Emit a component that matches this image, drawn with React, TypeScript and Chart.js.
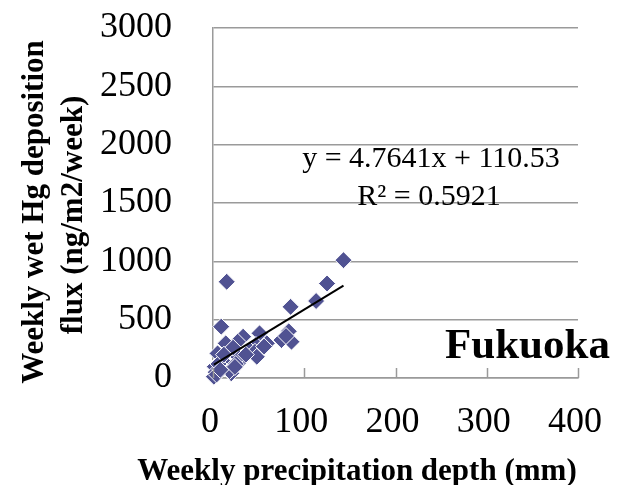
import React, { useEffect, useRef } from 'react';
import { Chart, registerables } from 'chart.js';

Chart.register(...registerables);

// Weekly precipitation depth (mm)
const PRECIP_MM = [143, 15, 125, 113, 85, 9, 83, 86, 75, 51, 47, 59, 33, 27, 40, 14, 16, 31, 5, 2, 1, 3, 20, 28, 46, 48, 22, 36, 10, 6, 18, 12, 25, 56, 80, 4, 8, 24];
// Weekly wet Hg deposition flux (ng/m2/week)
const HG_FLUX = [1010, 825, 810, 660, 610, 440, 400, 311, 325, 383, 283, 297, 354, 311, 240, 297, 97, 154, 211, 97, 11, 50, 40, 180, 225, 182, 260, 200, 150, 120, 60, 200, 120, 270, 360, 30, 70, 95];

const TREND_SLOPE = 4.7641;
const TREND_INTERCEPT = 110.53;
const EQUATION_TEXT = 'y = 4.7641x + 110.53';
const R2_TEXT = 'R² = 0.5921';
const SITE_LABEL = 'Fukuoka';
const X_TITLE = 'Weekly precipitation depth (mm)';
const Y_TITLE_LINES = ['Weekly wet Hg deposition', 'flux (ng/m2/week)'];

const X_MIN = 0;
const X_MAX = 400;
const X_STEP = 100;
const Y_MIN = 0;
const Y_MAX = 3000;
const Y_STEP = 500;

const SERIF = '"Liberation Serif", "Times New Roman", serif';
const GRID = '#9a9a9a';
const CLEAR = 'rgba(0,0,0,0)';

const annotations = {
  id: 'annotations',
  afterDraw(chart: any) {
    const { ctx, chartArea, scales } = chart;
    const xs = scales.x;
    ctx.save();
    // inner tick marks on x axis
    ctx.strokeStyle = GRID;
    ctx.lineWidth = 1.5;
    for (let v = X_MIN; v <= X_MAX; v += X_STEP) {
      const px = Math.round(xs.getPixelForValue(v)) + 0.5;
      ctx.beginPath();
      ctx.moveTo(px, chartArea.bottom);
      ctx.lineTo(px, chartArea.bottom - 10);
      ctx.stroke();
    }
    ctx.fillStyle = '#000';
    // equation
    ctx.font = `30px ${SERIF}`;
    ctx.textAlign = 'center';
    ctx.textBaseline = 'alphabetic';
    ctx.fillText(EQUATION_TEXT, 431, 167);
    ctx.fillText(R2_TEXT, 429, 205);
    // site label
    ctx.font = `bold 43px ${SERIF}`;
    ctx.textAlign = 'left';
    ctx.fillText(SITE_LABEL, 445, 358);
    // x title
    ctx.font = `bold 31px ${SERIF}`;
    ctx.textAlign = 'center';
    ctx.fillText(X_TITLE, 357, 480);
    // y title
    ctx.save();
    ctx.translate(35, 212);
    ctx.rotate(-Math.PI / 2);
    ctx.textBaseline = 'middle';
    ctx.fillText(Y_TITLE_LINES[0], 0, 0);
    ctx.restore();
    ctx.save();
    ctx.translate(74, 215);
    ctx.rotate(-Math.PI / 2);
    ctx.textBaseline = 'middle';
    ctx.fillText(Y_TITLE_LINES[1], 0, 0);
    ctx.restore();
    ctx.restore();
  },
};

export default function App() {
  const ref = useRef<HTMLCanvasElement | null>(null);
  useEffect(() => {
    if (!ref.current) return;
    const points = PRECIP_MM.map((x, i) => ({ x, y: HG_FLUX[i] }));
    const tMin = Math.min(...PRECIP_MM);
    const tMax = Math.max(...PRECIP_MM);
    const trend = [tMin, tMax].map((x) => ({ x, y: TREND_SLOPE * x + TREND_INTERCEPT }));
    const chart = new Chart(ref.current, {
      type: 'scatter',
      data: {
        datasets: [
          {
            type: 'line',
            data: trend,
            borderColor: '#000',
            borderWidth: 2,
            pointRadius: 0,
            fill: false,
            order: 0,
            clip: false,
          } as any,
          {
            data: points,
            pointStyle: 'rectRot',
            pointRadius: 8.5,
            backgroundColor: '#505292',
            borderColor: '#ffffff',
            borderWidth: 1,
            order: 1,
            clip: false,
          } as any,
        ],
      },
      options: {
        animation: false,
        responsive: false,
        devicePixelRatio: 1,
        layout: { padding: { top: 28, right: 42, left: 0, bottom: 0 } },
        plugins: { legend: { display: false }, tooltip: { enabled: false } },
        scales: {
          x: {
            type: 'linear',
            min: X_MIN,
            max: X_MAX,
            ticks: {
              stepSize: X_STEP,
              color: '#000',
              font: { family: SERIF, size: 36 },
              padding: 0,
              labelOffset: -3,
              maxRotation: 0,
              callback: (v: any) => String(v),
            },
            grid: { display: true, drawOnChartArea: false, drawTicks: true, tickLength: 23, tickColor: CLEAR, color: CLEAR },
            border: { display: true, color: GRID, width: 1.5 },
            afterFit: (s: any) => { s.height = 107; },
          },
          y: {
            type: 'linear',
            min: Y_MIN,
            max: Y_MAX,
            ticks: {
              stepSize: Y_STEP,
              color: '#000',
              font: { family: SERIF, size: 36 },
              padding: 0,
              callback: (v: any) => String(v),
            },
            grid: { display: true, color: GRID, lineWidth: 1.5, drawTicks: true, tickLength: 41, tickColor: CLEAR },
            border: { display: true, color: GRID, width: 1.5 },
            afterFit: (s: any) => { s.width = 213; },
          },
        },
      },
      plugins: [annotations],
    });
    return () => chart.destroy();
  }, []);
  return (
    <div style={{ position: 'absolute', left: 0, top: 0, width: 620, height: 485, background: '#fff' }}>
      <canvas ref={ref} width={620} height={485} />
    </div>
  );
}
